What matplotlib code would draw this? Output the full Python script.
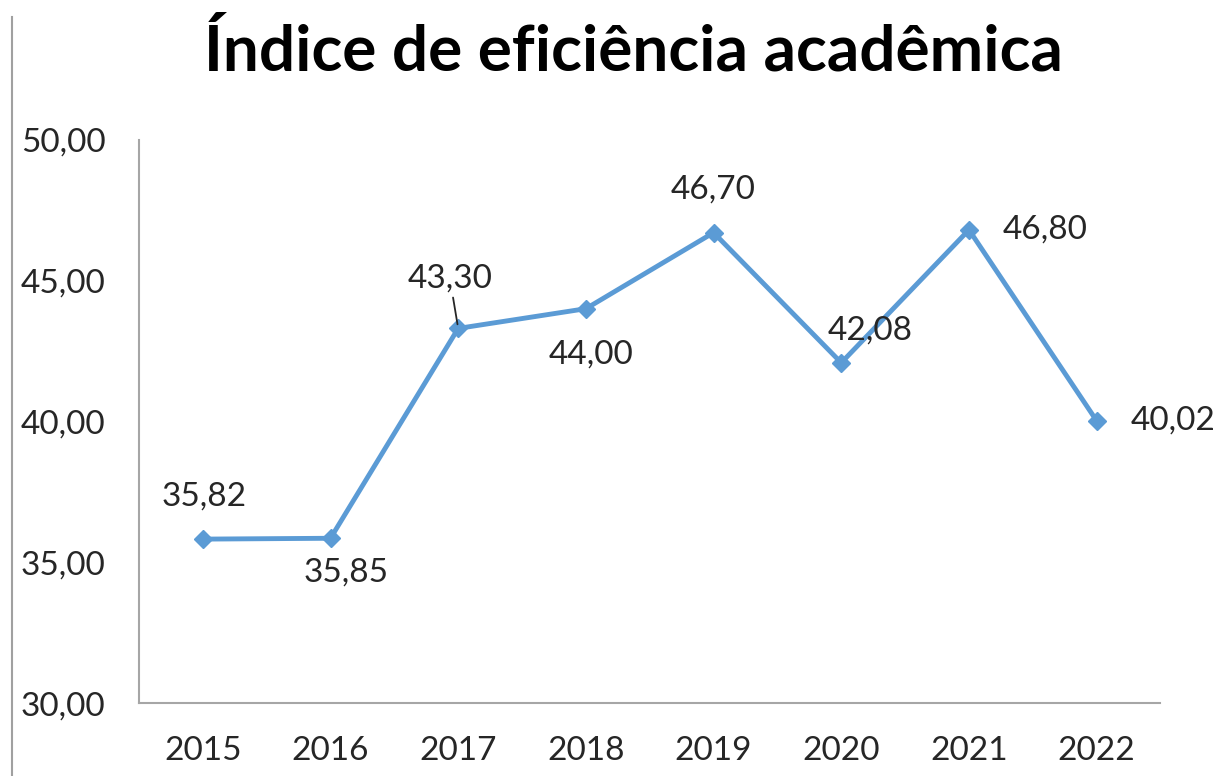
import matplotlib.pyplot as plt
from matplotlib.lines import Line2D

plt.rcParams['font.family'] = ['Lato', 'DejaVu Sans']

years = ['2015', '2016', '2017', '2018', '2019', '2020', '2021', '2022']
values = [35.82, 35.85, 43.30, 44.00, 46.70, 42.08, 46.80, 40.02]
y_ticks = [30, 35, 40, 45, 50]

# label offsets in points (dx, dy)
offsets = [(1, 31), (11, -25), (-6, 36), (4, -33), (0, 31), (21, 23), (55, 0), (55, 0)]

fig = plt.figure(figsize=(12.19, 7.76), dpi=100)
ax = fig.add_axes([0.114, 0.094, 0.838, 0.726])

x = list(range(len(years)))
ax.plot(x, values, color='#5B9BD5', lw=3.5, marker='D', ms=9, zorder=3)

for i, v in enumerate(values):
    lbl = f'{v:.2f}'.replace('.', ',')
    dx, dy = offsets[i]
    if i == 2:
        ax.annotate(lbl, (i, v), xytext=(dx, dy), textcoords='offset points',
                    ha='center', va='center', fontsize=24, color='#262626',
                    arrowprops=dict(arrowstyle='-', color='#262626', lw=1.3,
                                    shrinkA=1, shrinkB=3))
    else:
        ax.annotate(lbl, (i, v), xytext=(dx, dy), textcoords='offset points',
                    ha='center', va='center', fontsize=24, color='#262626')

ax.set_xlim(-0.5, len(years) - 0.5)
ax.set_ylim(30, 50)
ax.set_yticks(y_ticks)
ax.set_yticklabels([f'{t:.2f}'.replace('.', ',') for t in y_ticks])
ax.set_xticks(x)
ax.set_xticklabels(years)
ax.tick_params(length=0, labelsize=24, labelcolor='#262626')
ax.tick_params(axis='y', pad=24)
ax.tick_params(axis='x', pad=24)

for s in ['top', 'right']:
    ax.spines[s].set_visible(False)
for s in ['left', 'bottom']:
    ax.spines[s].set_color('#A6A6A6')
    ax.spines[s].set_linewidth(1.5)

fig.text(0.52, 0.935, 'Índice de eficiência acadêmica', ha='center', va='center',
         fontsize=46, fontweight='bold', color='black')

# border line at the left edge of the screenshot
fig.add_artist(Line2D([0.010, 0.010], [0, 0.978], color='#A0A0A0', lw=1.5))

fig.savefig('out.png', dpi=100)
